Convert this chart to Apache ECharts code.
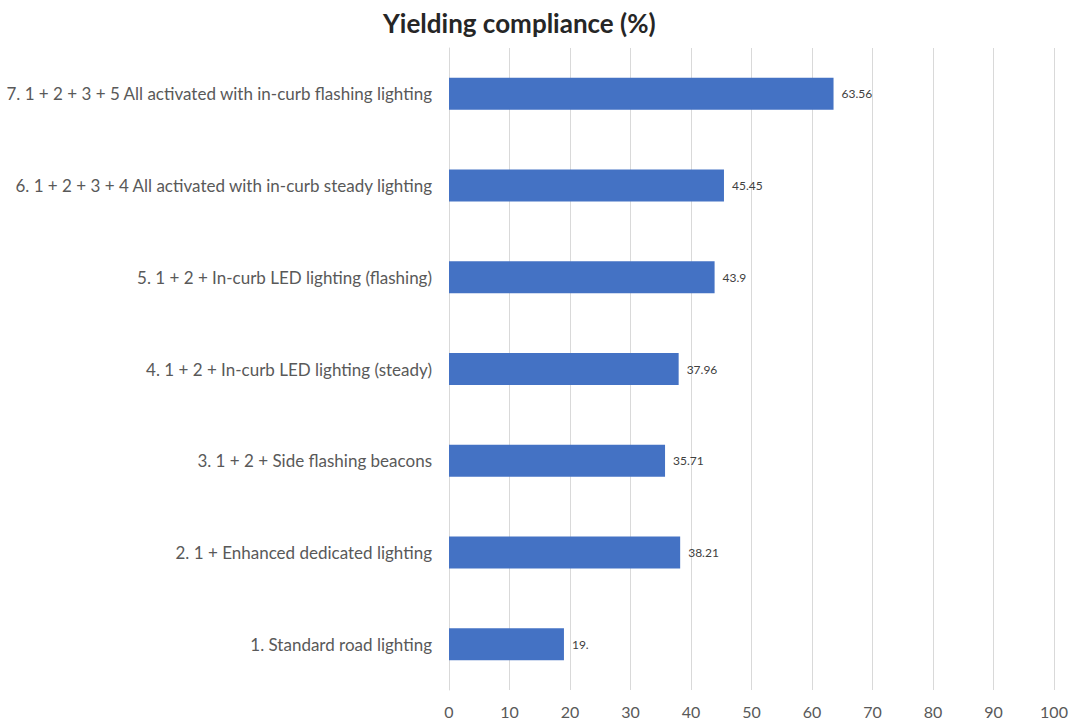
<!DOCTYPE html>
<html>
<head>
<meta charset="utf-8">
<script src="https://cdn.jsdelivr.net/npm/echarts@6/dist/echarts.min.js"></script>
<style>
  html, body { margin: 0; padding: 0; background: #fff; }
  #yielding { width: 1075px; height: 724px; }
</style>
</head>
<body>
<div id="yielding"></div>
<script>
  var categories = [
    '1. Standard road lighting',
    '2. 1 + Enhanced dedicated lighting',
    '3. 1 + 2 + Side flashing beacons',
    '4. 1 + 2 + In-curb LED lighting (steady)',
    '5. 1 + 2 + In-curb LED lighting (flashing)',
    '6. 1 + 2 + 3 + 4 All activated with in-curb steady lighting',
    '7. 1 + 2 + 3 + 5 All activated with in-curb flashing lighting'
  ];
  var compliance = [19, 38.21, 35.71, 37.96, 43.9, 45.45, 63.56];
  var valueLabels = ['19.', '38.21', '35.71', '37.96', '43.9', '45.45', '63.56'];

  var chartDom = document.getElementById('yielding');
  var myChart = echarts.init(chartDom, null, { renderer: 'svg' });

  var option = {
    title: {
      text: 'Yielding compliance (%)',
      left: 378,
      top: 5,
      textStyle: { fontFamily: 'Lato', fontSize: 26, fontWeight: 'bold', color: '#262626' }
    },
    grid: { left: 449, right: 21, top: 48, bottom: 34 },
    xAxis: {
      type: 'value',
      min: 0,
      max: 100,
      interval: 10,
      axisLine: { show: false },
      axisTick: { show: false },
      splitLine: { show: true, lineStyle: { color: '#d9d9d9', width: 1 } },
      axisLabel: { fontFamily: 'Lato', fontSize: 16, color: '#595959', margin: 13 }
    },
    yAxis: {
      type: 'category',
      data: categories,
      axisLine: { show: true, lineStyle: { color: '#d9d9d9' } },
      axisTick: { show: false },
      axisLabel: { fontFamily: 'Lato', fontSize: 17, color: '#595959', margin: 17 }
    },
    series: [{
      name: 'Yielding compliance',
      type: 'bar',
      data: compliance,
      barWidth: 32,
      itemStyle: { color: '#4472c4' },
      label: {
        show: true,
        position: 'right',
        distance: 8,
        fontFamily: 'Lato',
        fontSize: 12,
        color: '#404040',
        formatter: function (p) { return valueLabels[p.dataIndex]; }
      }
    }]
  };

  myChart.setOption(option);
  window.addEventListener('resize', myChart.resize);
</script>
</body>
</html>
